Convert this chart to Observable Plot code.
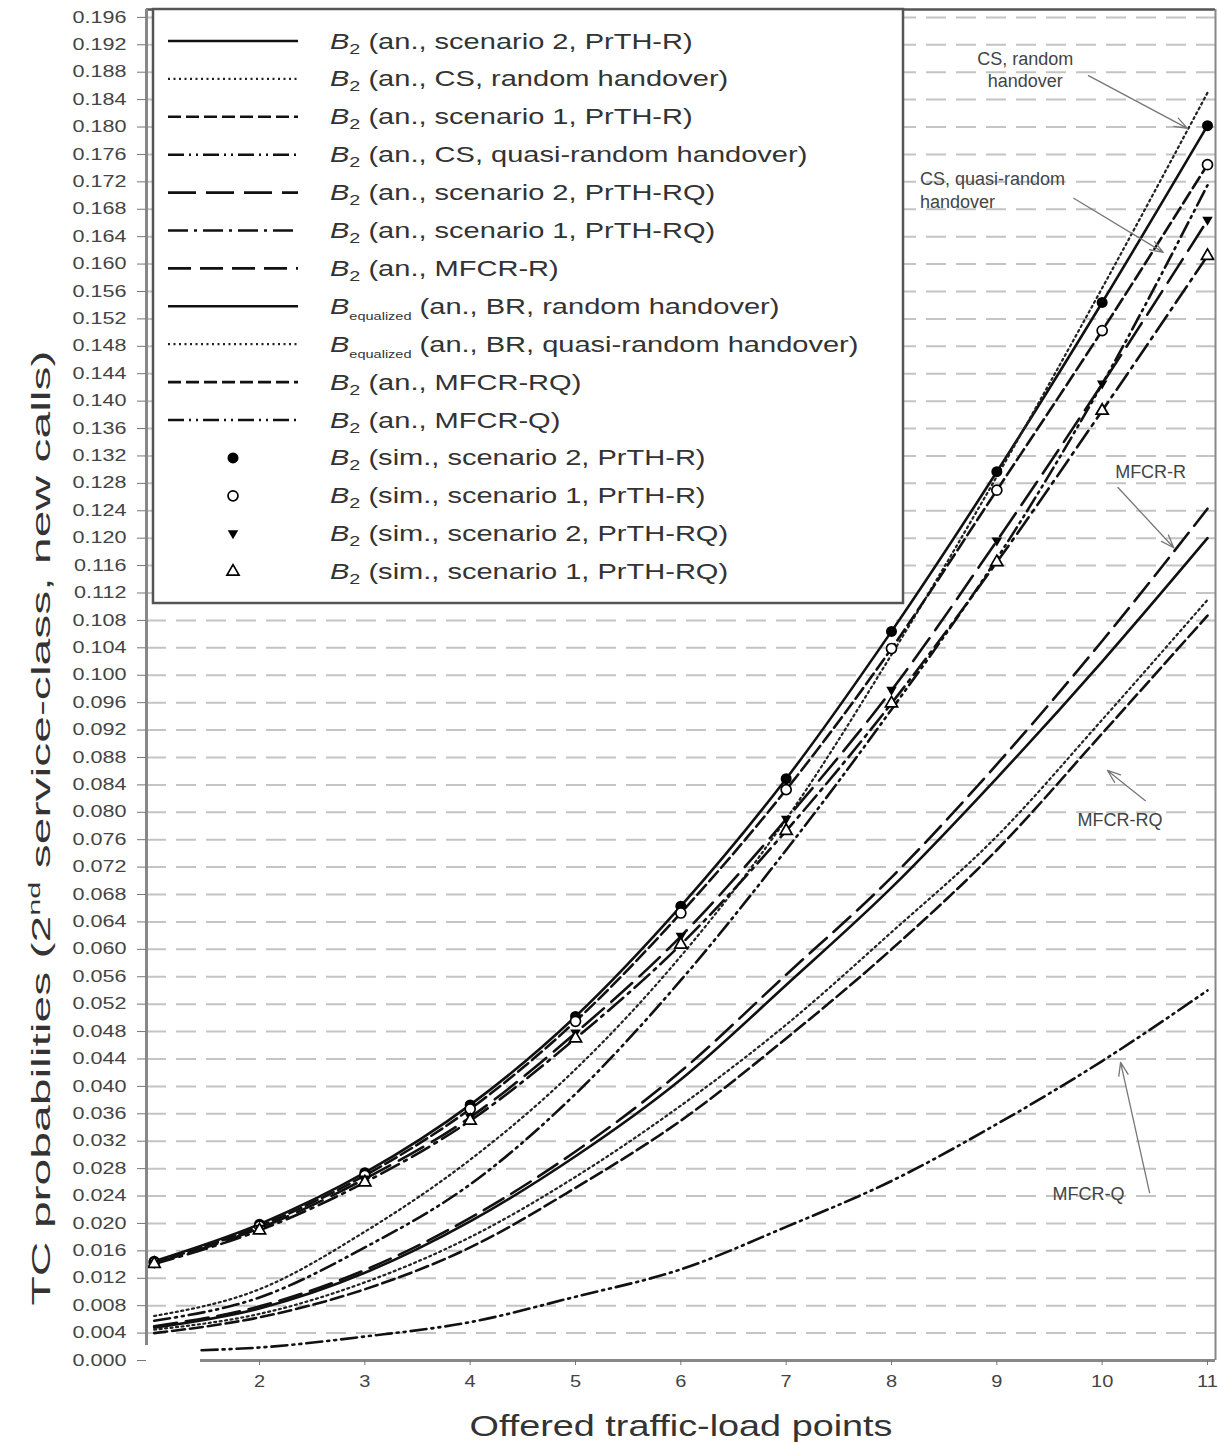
<!DOCTYPE html>
<html>
<head>
<meta charset="utf-8">
<script src="https://cdn.jsdelivr.net/npm/d3@7"></script>
<script src="https://cdn.jsdelivr.net/npm/@observablehq/plot@0.6"></script>
<style>
html,body{margin:0;padding:0;background:#fff;}
#chart{width:1218px;height:1445px;overflow:hidden;}
</style>
</head>
<body>
<div id="chart"></div>
<script>
// ---------------- data ----------------
const loadPoints = [1, 2, 3, 4, 5, 6, 7, 8, 9, 10, 11];

const s2PrthR  = [0.0145, 0.0199, 0.0274, 0.0373, 0.0502, 0.0663, 0.0849, 0.1064, 0.1297, 0.1544, 0.1802];
const csRandom = [0.0065, 0.0104, 0.0188, 0.0293, 0.0425, 0.0590, 0.0790, 0.1030, 0.1290, 0.1565, 0.1850];
const s1PrthR  = [0.0143, 0.0196, 0.0270, 0.0367, 0.0495, 0.0653, 0.0833, 0.1039, 0.1270, 0.1503, 0.1745];
const csQuasi  = [0.0058, 0.0092, 0.0165, 0.0257, 0.0389, 0.0555, 0.0745, 0.0950, 0.1170, 0.1425, 0.1715];
const s2PrthRQ = [0.0142, 0.0193, 0.0265, 0.0355, 0.0478, 0.0619, 0.0790, 0.0978, 0.1196, 0.1425, 0.1664];
const s1PrthRQ = [0.0141, 0.0190, 0.0260, 0.0350, 0.0470, 0.0607, 0.0773, 0.0959, 0.1165, 0.1386, 0.1612];
const mfcrR    = [0.0050, 0.0079, 0.0132, 0.0208, 0.0305, 0.0422, 0.0563, 0.0705, 0.0870, 0.1050, 0.1243];
const brRandom = [0.0048, 0.0076, 0.0128, 0.0203, 0.0298, 0.0410, 0.0548, 0.0690, 0.0850, 0.1020, 0.1200];
const brQuasi  = [0.0045, 0.0068, 0.0114, 0.0180, 0.0268, 0.0372, 0.0490, 0.0625, 0.0765, 0.0935, 0.1110];
const mfcrRQ   = [0.0040, 0.0063, 0.0104, 0.0165, 0.0252, 0.0350, 0.0470, 0.0600, 0.0745, 0.0915, 0.1087];
const mfcrQLoad = [1.45, 2, 3, 4, 5, 6, 7, 8, 9, 10, 11];
const mfcrQ    = [0.0015, 0.0019, 0.0035, 0.0056, 0.0093, 0.0133, 0.0195, 0.0262, 0.0345, 0.0437, 0.0540];

// simulation points (lie on the analytical curves)
const simS2PrthR  = s2PrthR;
const simS1PrthR  = s1PrthR;
const simS2PrthRQ = s2PrthRQ;
const simS1PrthRQ = s1PrthRQ;

const xTicks = [2, 3, 4, 5, 6, 7, 8, 9, 10, 11];
const yTicks = d3.range(0, 50).map(i => +(i * 0.004).toFixed(3));

const annotLabels = ["CS, random\nhandover", "CS, quasi-random\nhandover", "MFCR-R", "MFCR-RQ", "MFCR-Q"];
const annotX      = [9.27, 8.27, 10.46, 10.17, 9.87];
const annotY      = [0.1885, 0.1709, 0.1299, 0.0791, 0.0245];
const annotAnchor = ["middle", "start", "middle", "middle", "middle"];
const arrowFromX  = [9.87, 9.73, 10.15, 10.41, 10.45];
const arrowFromY  = [0.1875, 0.1696, 0.1274, 0.0817, 0.0245];
const arrowToX    = [10.81, 10.58, 10.68, 10.05, 10.175];
const arrowToY    = [0.1798, 0.1617, 0.1186, 0.0861, 0.0435];

const legendSub  = ["2","2","2","2","2","2","2","equalized","equalized","2","2","2","2","2","2"];
const legendText = [" (an., scenario 2, PrTH-R)", " (an., CS, random handover)", " (an., scenario 1, PrTH-R)",
  " (an., CS, quasi-random handover)", " (an., scenario 2, PrTH-RQ)", " (an., scenario 1, PrTH-RQ)",
  " (an., MFCR-R)", " (an., BR, random handover)", " (an., BR, quasi-random handover)",
  " (an., MFCR-RQ)", " (an., MFCR-Q)", " (sim., scenario 2, PrTH-R)", " (sim., scenario 1, PrTH-R)",
  " (sim., scenario 2, PrTH-RQ)", " (sim., scenario 1, PrTH-RQ)"];

// ---------------- styles ----------------
const styles = {
  solid:      {stroke: "#111", strokeWidth: 2.6, dash: null},
  dotted:     {stroke: "#222", strokeWidth: 2.2, dash: "2,3.5"},
  dashed:     {stroke: "#111", strokeWidth: 2.6, dash: "13,5"},
  dashDotDot: {stroke: "#111", strokeWidth: 2.6, dash: "16,5,2,5,2,5"},
  longDash:   {stroke: "#111", strokeWidth: 2.6, dash: "28,10"},
  dashDot:    {stroke: "#111", strokeWidth: 2.6, dash: "20,6,3,6"},
  midDash:    {stroke: "#111", strokeWidth: 2.6, dash: "23,9"}
};

const series = [
  {x: loadPoints, y: s2PrthR,  style: "solid"},
  {x: loadPoints, y: csRandom, style: "dotted"},
  {x: loadPoints, y: s1PrthR,  style: "dashed"},
  {x: loadPoints, y: csQuasi,  style: "dashDotDot"},
  {x: loadPoints, y: s2PrthRQ, style: "longDash"},
  {x: loadPoints, y: s1PrthRQ, style: "dashDot"},
  {x: loadPoints, y: mfcrR,    style: "midDash"},
  {x: loadPoints, y: brRandom, style: "solid"},
  {x: loadPoints, y: brQuasi,  style: "dotted"},
  {x: loadPoints, y: mfcrRQ,   style: "dashed"},
  {x: mfcrQLoad,  y: mfcrQ,    style: "dashDotDot"}
];

const triangleDown = {
  draw(context, size) {
    const r = Math.sqrt(size / Math.PI);
    context.moveTo(-r * 1.05, -r * 0.7);
    context.lineTo(r * 1.05, -r * 0.7);
    context.lineTo(0, r * 1.1);
    context.closePath();
  }
};

const simMarkers = [
  {y: simS2PrthR,  symbol: "circle",   fill: "#000", stroke: "none", r: 5.5},
  {y: simS1PrthR,  symbol: "circle",   fill: "#fff", stroke: "#000", r: 5},
  {y: simS2PrthRQ, symbol: triangleDown, fill: "#000", stroke: "none", r: 5},
  {y: simS1PrthRQ, symbol: "triangle", fill: "#fff", stroke: "#000", r: 4.5}
];

// ---------------- tables ----------------
const toRows = (xs, ys) => xs.map((x, i) => ({x, y: ys[i]}));
const annotations = annotLabels.map((label, i) => ({label, x: annotX[i], y: annotY[i], anchor: annotAnchor[i]}));
const arrows = arrowFromX.map((x1, i) => ({x1, y1: arrowFromY[i], x2: arrowToX[i], y2: arrowToY[i]}));

const xMin = 0.927, xMax = 11.076, yMax = 0.19715;

const marks = [];
marks.push(Plot.ruleY(yTicks.filter(d => d > 0), {stroke: "#c4c4c4", strokeWidth: 2, strokeDasharray: "20,10"}));
for (const s of series) {
  const st = styles[s.style];
  marks.push(Plot.line(toRows(s.x, s.y), {
    x: "x", y: "y", curve: "monotone-x",
    stroke: st.stroke, strokeWidth: st.strokeWidth, strokeDasharray: st.dash ?? undefined
  }));
}
for (const m of simMarkers) {
  marks.push(Plot.dot(toRows(loadPoints, m.y), {
    x: "x", y: "y", r: m.r, symbol: m.symbol, fill: m.fill, stroke: m.stroke, strokeWidth: 1.7
  }));
}
marks.push(Plot.arrow(arrows, {x1: "x1", y1: "y1", x2: "x2", y2: "y2", stroke: "#777", strokeWidth: 1.3, headLength: 16, headAngle: 40}));
for (const anchor of ["middle", "start"]) {
  marks.push(Plot.text(annotations.filter(a => a.anchor === anchor), {
    x: "x", y: "y", text: "label", textAnchor: anchor, lineAnchor: "middle", lineHeight: 1.25,
    fontSize: 18, fill: "#444", ariaLabel: "annotation"
  }));
}
// frame
marks.push(Plot.ruleY([yMax], {stroke: "#555", strokeWidth: 2.5}));
marks.push(Plot.ruleX([xMax], {stroke: "#888", strokeWidth: 2}));
marks.push(Plot.ruleX([xMin], {y1: 0.0022, y2: yMax, stroke: "#888", strokeWidth: 3}));
marks.push(Plot.ruleY([0], {x1: 1.44, x2: xMax, stroke: "#888", strokeWidth: 3}));
// axes
marks.push(Plot.axisY(yTicks, {tickFormat: d3.format(".3f"), tickSize: 9, tickPadding: 11, stroke: "#777", fill: "#444", fontSize: 16, label: null}));
marks.push(Plot.axisX(xTicks, {tickSize: 5, tickPadding: 10, stroke: "#777", fill: "#444", fontSize: 16, label: null}));

const svgNode = Plot.plot({
  width: 1218, height: 1445,
  marginLeft: 146, marginRight: 3, marginTop: 9, marginBottom: 85,
  x: {domain: [xMin, xMax]},
  y: {domain: [0, yMax]},
  style: {fontFamily: "'Liberation Sans', Arial, sans-serif", background: "#fff", overflow: "visible"},
  marks
});
document.getElementById("chart").appendChild(svgNode);

const svg = d3.select(svgNode);

function stretch(sel, sx) {
  sel.each(function () {
    const t = this.getAttribute("transform") || "";
    const x = +this.getAttribute("x") || 0, y = +this.getAttribute("y") || 0;
    this.setAttribute("transform", `${t} translate(${x},${y}) scale(${sx},1) translate(${-x},${-y})`);
  });
}
stretch(svg.selectAll('g[aria-label="y-axis tick label"] text'), 1.35);
stretch(svg.selectAll('g[aria-label="x-axis tick label"] text'), 1.25);
stretch(svg.selectAll('g[aria-label="annotation"] text'), 1.08);

// ---------------- legend ----------------
const lg = svg.append("g").attr("class", "legend").attr("text-anchor", "start");
lg.append("rect").attr("x", 153).attr("y", 9).attr("width", 750).attr("height", 594)
  .attr("fill", "#fff").attr("stroke", "#555").attr("stroke-width", 2.5);
const rowY = i => 41 + i * 37.9;
series.forEach((s, i) => {
  const st = styles[s.style];
  lg.append("line").attr("x1", 168).attr("x2", 298).attr("y1", rowY(i)).attr("y2", rowY(i))
    .attr("stroke", st.stroke).attr("stroke-width", st.strokeWidth)
    .attr("stroke-dasharray", st.dash);
});
simMarkers.forEach((m, j) => {
  const i = series.length + j;
  const type = m.symbol === "circle" ? d3.symbolCircle : m.symbol === "triangle" ? d3.symbolTriangle : m.symbol;
  lg.append("path").attr("d", d3.symbol(type, m.r * m.r * Math.PI)())
    .attr("transform", `translate(233,${rowY(i)})`)
    .attr("fill", m.fill).attr("stroke", m.stroke).attr("stroke-width", 1.7);
});
legendText.forEach((txt, i) => {
  const t = lg.append("text")
    .attr("text-anchor", "start")
    .attr("transform", `translate(330,${rowY(i) + 7.5}) scale(1.32,1)`)
    .attr("font-family", "'Liberation Sans', Arial, sans-serif")
    .attr("font-size", 22).attr("fill", "#333");
  t.append("tspan").attr("font-style", "italic").text("B");
  const small = legendSub[i] !== "2";
  t.append("tspan").attr("font-size", small ? 11 : 15).attr("dy", small ? 6 : 5).text(legendSub[i]);
  t.append("tspan").attr("dy", small ? -6 : -5).text(txt);
});

// ---------------- axis titles ----------------
const yt = svg.append("text")
  .attr("transform", "translate(50,828) rotate(-90)")
  .attr("text-anchor", "middle")
  .attr("font-family", "'Liberation Sans', Arial, sans-serif")
  .attr("font-size", 25).attr("fill", "#333")
  .attr("textLength", 955).attr("lengthAdjust", "spacingAndGlyphs");
yt.append("tspan").text("TC probabilities (2");
yt.append("tspan").attr("font-size", 16).attr("dy", -10).text("nd");
yt.append("tspan").attr("dy", 10).text(" service-class, new calls)");

svg.append("text")
  .attr("x", 681).attr("y", 1436)
  .attr("text-anchor", "middle")
  .attr("font-family", "'Liberation Sans', Arial, sans-serif")
  .attr("font-size", 30).attr("fill", "#333")
  .attr("textLength", 423).attr("lengthAdjust", "spacingAndGlyphs")
  .text("Offered traffic-load points");
</script>
</body>
</html>
